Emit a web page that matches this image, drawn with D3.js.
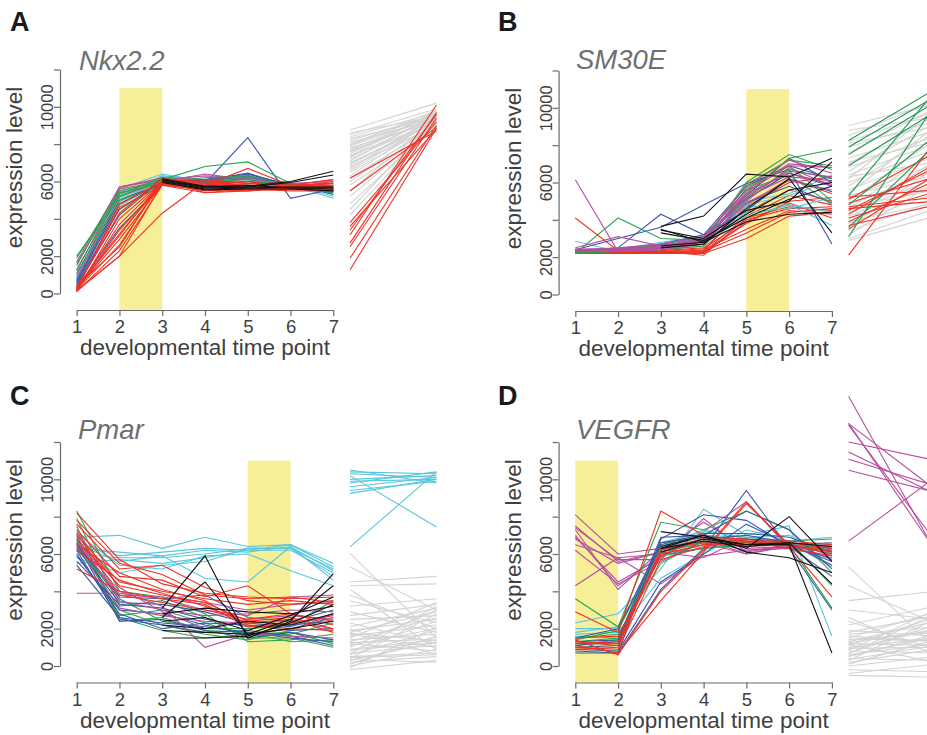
<!DOCTYPE html>
<html><head><meta charset="utf-8">
<script src="https://cdn.jsdelivr.net/npm/d3@7"></script>
<style>body{margin:0;background:#fff}svg{display:block}</style>
</head><body>
<svg id="chart" width="927" height="735"></svg>
<script>
// ---------------- shared ----------------
const timePoints = [1, 2, 3, 4, 5, 6, 7];
const yTicks = [0, 2000, 4000, 6000, 8000, 10000, 12000];
const yTickLabels = {0: "0", 2000: "2000", 6000: "6000", 10000: "10000"};
const xTitle = "developmental time point";
const yTitle = "expression level";

// ---------------- A: Nkx2.2 ----------------
const nkxRed = [
  [150, 2000, 5900, 5700, 5600, 5700, 5600],
  [100, 2300, 5800, 5600, 5500, 5600, 5500],
  [200, 2600, 6000, 5800, 5700, 5600, 5800],
  [250, 2900, 5850, 5500, 5600, 5700, 5500],
  [300, 3100, 6100, 5900, 5800, 5700, 5900],
  [150, 3400, 5900, 5700, 5700, 5600, 5600],
  [200, 3700, 5950, 5800, 6700, 5800, 5700],
  [100, 4000, 6000, 6000, 5800, 5700, 6000],
  [350, 4300, 6200, 5700, 5600, 5600, 5700],
  [250, 4600, 5800, 5400, 5500, 5700, 5600],
  [150, 2000, 4300, 6000, 5900, 5800, 5900],
  [400, 2500, 6100, 5400, 5600, 5500, 5500],
  [300, 3200, 5900, 5800, 6000, 5700, 5800],
  [200, 4800, 6000, 6100, 5900, 5800, 6100]
];
const nkxGreen = [
  [2000, 5200, 6100, 6800, 7050, 5900, 5600],
  [1900, 5500, 6000, 6200, 6300, 5800, 5700],
  [1600, 5400, 5900, 6000, 6100, 5700, 5500],
  [1300, 5300, 6200, 5900, 6000, 5800, 5600],
  [1100, 5000, 5800, 5700, 5800, 5700, 5400]
];
const nkxCyan = [
  [800, 5600, 6400, 6000, 6200, 5800, 5100],
  [600, 5300, 6300, 5900, 6300, 5900, 5300],
  [500, 5100, 6200, 6000, 6400, 5800, 5500],
  [700, 4900, 6100, 5800, 6200, 5700, 5400],
  [400, 5000, 6150, 5900, 6350, 5800, 5600],
  [900, 5450, 6050, 5850, 6150, 5750, 5500],
  [300, 4700, 6000, 5900, 6250, 5850, 5700],
  [1000, 5200, 6300, 6100, 6300, 5900, 5200]
];
const nkxBlue = [
  [300, 3500, 5800, 5900, 8350, 5100, 5600],
  [500, 4500, 6000, 6100, 6400, 5800, 5500],
  [700, 5000, 5900, 6000, 6300, 5700, 5400],
  [400, 4200, 6100, 5900, 6200, 5900, 5300],
  [600, 4800, 5950, 6050, 6450, 5750, 5600]
];
const nkxMagenta = [
  [1500, 5700, 6100, 6300, 6200, 5800, 5900],
  [1200, 5600, 6000, 6400, 6100, 5800, 6100],
  [1000, 5400, 5900, 5900, 5800, 5900, 5700],
  [800, 5200, 6000, 5800, 6000, 5700, 5800],
  [1700, 5700, 6200, 6100, 6000, 5900, 6000]
];
const nkxBlack = [
  [null, null, 6150, 5750, 5750, 6000, 6550],
  [null, null, 6050, 5650, 5700, 5950, 6350],
  [null, null, 6000, 5600, 5650, 5700, 5700],
  [null, null, 5950, 5550, 5600, 5600, 5500],
  [null, null, 6100, 5700, 5800, 5650, 5600]
];
const nkxMiniGray = [
  [8760, 10200], [8600, 9500], [8400, 9700], [8300, 9400], [8200, 9600], [8100, 9300],
  [8000, 9800], [7900, 9500], [7800, 9200], [7700, 9600], [7600, 9400], [7500, 9700],
  [7400, 9100], [7300, 9500], [7200, 9300], [7100, 9600], [7000, 9200], [6900, 9400],
  [6800, 9000], [6700, 9500], [6600, 9300], [6500, 9100], [6300, 9400], [6200, 9000],
  [6000, 9200], [5800, 8900], [5500, 9300], [5200, 9100], [4800, 9000], [4500, 9400],
  [4200, 9200], [8500, 9900], [7950, 9650], [7650, 9350], [7350, 9800], [6950, 9150]
];
const nkxMiniRed = [
  [6175, 8700], [5494, 8900], [3795, 9200], [3404, 9600], [3136, 10100],
  [2508, 9400], [1887, 9000], [1260, 8850], [2700, 9700], [3600, 8800]
];

// ---------------- B: SM30E ----------------
const smRed = [
  [2200, 2300, 2300, 2100, 4100, 4700, 4500],
  [2300, 2250, 2200, 2200, 3000, 4200, 4400],
  [2250, 2300, 2250, 2300, 3800, 5000, 5200],
  [4100, 2350, 2300, 2250, 4200, 5300, 4800],
  [2200, 2200, 2200, 2400, 3500, 4500, 4300],
  [2300, 2300, 2350, 2500, 4400, 5600, 5000],
  [2200, 2250, 2300, 2350, 4700, 6000, 6300],
  [2350, 2300, 2250, 2200, 3900, 4900, 4100],
  [2250, 2300, 2400, 2600, 4800, 6200, 5400],
  [2300, 2250, 2300, 2450, 4000, 4600, 4700],
  [2200, 2300, 2200, 2300, 3300, 4400, 4600]
];
const smGreen = [
  [2200, 4100, 3000, 2900, 5400, 7300, 7750],
  [2300, 2400, 2600, 2800, 6000, 7500, 6700],
  [2250, 2350, 2500, 2700, 5700, 6900, 5000],
  [2200, 2300, 2400, 2600, 5200, 6700, 6200],
  [2300, 2300, 2500, 2900, 5900, 7200, 6900],
  [2250, 2400, 2700, 3100, 5600, 6400, 4800]
];
const smBlue = [
  [2300, 2500, 4300, 3200, 4500, 6200, 5500],
  [2400, 3000, 3600, 4800, 5950, 6700, 2700],
  [2300, 2350, 2500, 2900, 5300, 7300, 6000],
  [2350, 2300, 2600, 3000, 5100, 6500, 5800],
  [2400, 2450, 2700, 3200, 5800, 6900, 6200],
  [2300, 2350, 2650, 2850, 4900, 5800, 4900]
];
const smCyan = [
  [2850, 2300, 2550, 2900, 4700, 4800, 3700],
  [2400, 2400, 2800, 3100, 5000, 5400, 6400],
  [2300, 2350, 2600, 2800, 4400, 4600, 5200],
  [2350, 2400, 2700, 3000, 4800, 5300, 6100],
  [2300, 2300, 2500, 2700, 4200, 4800, 4400]
];
const smMagenta = [
  [6150, 2300, 2400, 2700, 5000, 6800, 5800],
  [2500, 3100, 2600, 2900, 5500, 6900, 6800],
  [2400, 2500, 2700, 3100, 5600, 7000, 6800],
  [2350, 2450, 2600, 3000, 5800, 7200, 6500],
  [2300, 2400, 2500, 2850, 5300, 6600, 6300],
  [2450, 2400, 2550, 2950, 5200, 6300, 6100],
  [2300, 2350, 2450, 2800, 4900, 6100, 5600],
  [2400, 2300, 2500, 2900, 5400, 6500, 5900]
];
const smBlack = [
  [null, null, 3650, 4200, 6450, 6300, 7300],
  [null, null, 3450, 3000, 4500, 5000, 7100],
  [null, null, 2500, 2700, 4600, 6200, 3300],
  [null, null, 3300, 2900, 4100, 5100, 5800],
  [null, null, 2600, 2800, 3900, 4300, 4400],
  [null, null, 3500, 2800, 4300, 5600, 6000]
];
const smMiniGray = [
  [9050, 10200], [8800, 9500], [8500, 10400], [8200, 9800], [7900, 9300], [7600, 10000],
  [7300, 8800], [7000, 9600], [6800, 8500], [6600, 9200], [6400, 8100], [6200, 9900],
  [6000, 7800], [5800, 8700], [5600, 7400], [5400, 9000], [5200, 7000], [5000, 8300],
  [4800, 6600], [4600, 7700], [4400, 6200], [4200, 5800], [4000, 7200], [3800, 5400],
  [3600, 6800], [3400, 5000], [3200, 6000], [3000, 4600], [2900, 4200], [4700, 5600],
  [5300, 6400], [3900, 4900], [6300, 7100], [7100, 8200], [8100, 9000]
];
const smMiniGreen = [
  [8250, 11000], [7900, 10600], [7500, 10300], [6900, 9800], [5300, 10900],
  [4800, 8500], [3090, 10200], [3600, 8000]
];
const smMiniRed = [
  [5220, 5600], [5100, 7600], [4900, 6300], [4700, 5200], [4500, 6800], [4300, 7000],
  [4100, 5500], [3900, 6100], [3700, 4800], [3500, 6400], [2110, 8200], [4600, 5000]
];

// ---------------- C: Pmar ----------------
const pmarCyan = [
  [6900, 7000, 6300, 6900, 6400, 6500, 5300],
  [6300, 6100, 5900, 6200, 6100, 6400, 5100],
  [6000, 5800, 5800, 6000, 6300, 6300, 4800],
  [5500, 5700, 5500, 5800, 6200, 6200, 5000],
  [6500, 5600, 5900, 4700, 4500, 6400, 4600],
  [7100, 5400, 5200, 5900, 6000, 5100, 4300],
  [6600, 5900, 6100, 6300, 6200, 6500, 5500],
  [5800, 5000, 5400, 5600, 6300, 6300, 5200]
];
const pmarRed = [
  [8200, 5700, 4400, 3900, 3700, 3600, 3700],
  [7800, 5500, 4900, 3800, 3600, 3700, 3400],
  [7600, 5200, 5400, 4200, 3500, 3300, 3500],
  [7300, 4800, 4600, 3700, 4300, 2800, 2400],
  [7000, 4500, 4000, 3600, 3300, 3500, 3300],
  [6800, 4300, 3800, 3400, 2400, 2600, 2000],
  [6500, 5000, 4100, 3500, 2200, 2000, 1900],
  [5200, 4000, 3600, 3300, 2100, 2300, 2700],
  [7100, 3800, 3400, 3000, 2500, 2800, 2200],
  [6200, 4600, 3900, 3200, 2300, 2500, 1800]
];
const pmarGreen = [
  [8300, 4000, 3700, 2800, 1300, 1400, 1700],
  [7900, 3200, 3500, 2600, 1500, 1500, 1000],
  [7500, 2400, 2600, 1900, 1800, 1300, 1400],
  [7000, 2700, 3000, 2300, 1600, 1700, 2300],
  [6700, 3000, 2200, 1700, 1400, 1900, 2800],
  [6400, 3600, 2400, 2000, 2000, 2200, 3500],
  [6800, 2600, 1900, 1500, 1700, 1800, 1200]
];
const pmarBlue = [
  [6600, 2400, 2500, 1900, 1500, 1800, 1400],
  [6200, 2500, 2200, 1800, 1900, 1600, 1100],
  [5900, 3000, 2800, 2200, 1700, 2000, 2600],
  [5600, 3300, 3100, 2500, 2100, 2200, 2400],
  [6000, 2800, 2000, 2300, 2200, 1900, 2000],
  [6300, 3400, 3300, 2900, 2300, 2100, 2800],
  [5400, 2600, 2300, 2100, 1800, 1500, 1300],
  [6500, 3700, 3600, 3800, 2600, 2400, 3000]
];
const pmarMagenta = [
  [3900, 3900, 3600, 3000, 2700, 3700, 3800],
  [6800, 4000, 3200, 1000, 1700, 1600, 1500],
  [6600, 3800, 3700, 3400, 3000, 3300, 3400],
  [7200, 4200, 2900, 2000, 2500, 2700, 2500],
  [6400, 3100, 2700, 2400, 2300, 2400, 2000],
  [6900, 3500, 3000, 2700, 2800, 3000, 2900]
];
const pmarBlack = [
  [null, null, 3100, 5900, 1500, 2400, 4950],
  [null, null, 2600, 4500, 1700, 2500, 4300],
  [null, null, 1500, 1500, 1600, 2300, 3300],
  [null, null, 2400, 2600, 1900, 2700, 3700],
  [null, null, 2200, 2000, 2400, 2200, 2800],
  [null, null, 2800, 3100, 2900, 2800, 3200],
  [null, null, 1900, 1800, 1700, 2000, 2400]
];
const pmarMiniCyan = [
  [10500, 9800], [10400, 10300], [10300, 10100], [10200, 7450], [10000, 10200],
  [9900, 10000], [9800, 10400], [9600, 10100], [9400, 9900], [9250, 10000], [6380, 10400]
];
const pmarMiniGray = [
  [6030, 1500], [5300, 3000], [4500, 4800], [4300, 4400], [4100, 900], [3500, 2300],
  [3200, 3600], [2900, 1800], [2700, 3300], [2500, 2700], [2300, 1200], [2100, 3100],
  [1900, 2500], [1800, 2900], [1700, 1000], [1600, 2200], [1500, 3400], [1400, 1700],
  [1300, 2600], [1200, 800], [1100, 2000], [1000, 3000], [900, 1400], [800, 2400],
  [700, 1100], [600, 1900], [500, 700], [400, 2800], [300, 1300], [200, 500],
  [100, 1600], [0, 900], [-200, 300], [-100, 2100], [1250, 1450], [850, 1250],
  [450, 600], [1750, 1350], [2000, 600], [3800, 2000], [650, 3200], [350, 200]
];

// ---------------- D: VEGFR ----------------
const vegfrMagenta = [
  [8100, 6000, 6300, 6800, 6000, 6400, 6500],
  [7400, 5700, 5700, 7900, 6100, 6500, 6300],
  [7300, 4100, 6200, 7700, 6300, 6400, 6200],
  [7000, 4300, 5900, 6500, 6400, 6600, 6500],
  [6800, 5500, 6100, 5800, 6900, 6700, 5900],
  [6500, 5800, 6000, 6300, 6700, 6500, 6200],
  [6200, 4400, 5600, 6700, 6200, 6300, 5800],
  [4300, 5800, 4400, 5900, 6200, 6400, 6600],
  [6900, 4500, 5800, 7200, 8800, 6300, 6400],
  [7500, 5600, 6100, 6600, 6000, 6500, 6600]
];
const vegfrRed = [
  [2900, 1800, 8300, 7000, 6400, 6500, 6000],
  [1400, 600, 4000, 6200, 8800, 6400, 3700],
  [1100, 700, 3500, 6100, 8700, 6500, 6100],
  [1200, 1300, 6000, 6500, 6600, 6600, 6300],
  [900, 1000, 6200, 6800, 6700, 6700, 6500],
  [1500, 1600, 5900, 6900, 6800, 6400, 6200],
  [1300, 1100, 6300, 6600, 6500, 6600, 6400],
  [1000, 900, 5700, 6400, 6700, 6300, 5900]
];
const vegfrGreen = [
  [3600, 2100, 7700, 7300, 8300, 7300, 5000],
  [1300, 1500, 6600, 7000, 6700, 6500, 3100],
  [1500, 1700, 5500, 6700, 6600, 6500, 6300],
  [1200, 1200, 6100, 6600, 6800, 6700, 6800],
  [1100, 1400, 5900, 6300, 6500, 6700, 4300],
  [1400, 1900, 6400, 6900, 6600, 6500, 6000]
];
const vegfrBlue = [
  [700, 700, 4100, 6300, 9400, 6300, 3000],
  [800, 700, 6800, 8100, 7800, 6400, 4800],
  [1300, 1400, 6900, 7000, 8300, 7300, 5200],
  [900, 800, 4500, 6000, 7600, 6500, 5600],
  [1100, 1300, 6500, 7100, 7100, 6900, 6100],
  [1000, 1100, 6200, 6800, 7000, 6600, 5400],
  [1500, 2000, 6600, 6900, 6800, 6600, 5700]
];
const vegfrCyan = [
  [2300, 2800, 5200, 8400, 7000, 7500, 1600],
  [2000, 2000, 6400, 7300, 6800, 6500, 6500],
  [1700, 1800, 4700, 6000, 7300, 6700, 6900],
  [1600, 1500, 6300, 7000, 6900, 7000, 6000],
  [1800, 2100, 6100, 6700, 6600, 6400, 6600],
  [1300, 1200, 6600, 7200, 6900, 6600, 5300]
];
const vegfrBlack = [
  [null, null, 6300, 7000, 6300, 8000, 5600],
  [null, null, 7200, 6900, 6500, 6500, 700],
  [null, null, 6400, 7000, 6100, 5800, 5000],
  [null, null, 6100, 6800, 6500, 6600, 4400],
  [null, null, 6300, 6700, 6400, 6600, 6400]
];
const vegfrMiniMagenta = [
  [14450, 6150], [12985, 9460], [12900, 6700], [12000, 11020], [11465, 9220],
  [11075, 9650], [10490, 9310], [6690, 10100], [13000, 6200]
];
const vegfrMiniGray = [
  [5300, 1000], [4300, 2300], [3500, 4000], [3000, 2500], [2400, 900], [2200, 3200],
  [1900, 1600], [1800, 2700], [1700, 2100], [1600, 1300], [1500, 2900], [1400, 1800],
  [1300, 2400], [1200, 1100], [1100, 2600], [1000, 1500], [900, 2000], [800, 700],
  [700, 2200], [600, 1200], [500, 1700], [400, 300], [300, 2500], [200, 900],
  [100, 1400], [0, 500], [-200, -300], [-400, 100], [-500, -600], [1250, 1900],
  [950, 1000], [650, 2800], [350, 1100], [1150, 200], [2600, 600], [850, 3000],
  [1450, 1350], [550, 1550]
];

// ---------------- styling ----------------
const colors = {
  red: "#ee3124", green: "#2ea44c", blue: "#3c56a6", cyan: "#5ac5dc",
  magenta: "#b4509e", black: "#111111", gray: "#d3d3d3", miniGreen: "#1f9650"
};
const highlightColor = "#f6ef98";
const fontFam = "'Liberation Sans', Arial, Helvetica, sans-serif";

const panels = [
  { letter: "A", gene: "Nkx2.2", highlight: [2, 3], dx: 0, dy: 0, letterX: 10, letterY: 31, titleX: 79, titleY: 69.5,
    series: [["cyan", nkxCyan], ["blue", nkxBlue], ["magenta", nkxMagenta], ["green", nkxGreen], ["red", nkxRed], ["black", nkxBlack]],
    mini: [["gray", nkxMiniGray], ["red", nkxMiniRed]] },
  { letter: "B", gene: "SM30E", highlight: [5, 6], dx: 498.6, dy: 1, letterX: 498, letterY: 31, titleX: 576, titleY: 68.5,
    series: [["red", smRed], ["cyan", smCyan], ["blue", smBlue], ["green", smGreen], ["magenta", smMagenta], ["black", smBlack]],
    mini: [["gray", smMiniGray], ["red", smMiniRed], ["miniGreen", smMiniGreen]] },
  { letter: "C", gene: "Pmar", highlight: [5, 6], dx: 0, dy: 372.5, letterX: 10, letterY: 405, titleX: 78, titleY: 438.5,
    series: [["cyan", pmarCyan], ["green", pmarGreen], ["blue", pmarBlue], ["magenta", pmarMagenta], ["red", pmarRed], ["black", pmarBlack]],
    mini: [["gray", pmarMiniGray], ["cyan", pmarMiniCyan]] },
  { letter: "D", gene: "VEGFR", highlight: [1, 2], dx: 498.6, dy: 372.5, letterX: 498, letterY: 405, titleX: 576, titleY: 439,
    series: [["magenta", vegfrMagenta], ["cyan", vegfrCyan], ["green", vegfrGreen], ["blue", vegfrBlue], ["red", vegfrRed], ["black", vegfrBlack]],
    mini: [["gray", vegfrMiniGray], ["magenta", vegfrMiniMagenta]] }
];

// base geometry of a panel (panel A), others are translated
const G = { yAxisX: 60, x0: 76.7, x1: 333.3, yZero: 293.5, yTop: 69.5, axisY: 310, miniL: 350, miniR: 436.5 };

const svg = d3.select("#chart");
svg.append("rect").attr("width", 927).attr("height", 735).attr("fill", "#fff");

panels.forEach(p => {
  svg.append("text").attr("x", p.letterX).attr("y", p.letterY).text(p.letter)
    .attr("font-family", fontFam).attr("font-weight", "bold").attr("font-size", 27).attr("fill", "#1a1a1a");
  svg.append("text").attr("x", p.titleX).attr("y", p.titleY).text(p.gene)
    .attr("font-family", fontFam).attr("font-style", "italic").attr("font-size", 27.5).attr("fill", "#6f6f6f");

  const g = svg.append("g").attr("transform", `translate(${p.dx},${p.dy})`);
  const x = d3.scaleLinear().domain([1, 7]).range([G.x0, G.x1]);
  const y = d3.scaleLinear().domain([0, 12000]).range([G.yZero, G.yTop]);

  g.append("rect")
    .attr("x", x(p.highlight[0])).attr("width", x(p.highlight[1]) - x(p.highlight[0]))
    .attr("y", y(11000)).attr("height", G.axisY - y(11000))
    .attr("fill", highlightColor);

  const line = d3.line().defined(d => d != null)
    .x((d, i) => x(timePoints[i])).y(d => y(d));
  p.series.forEach(([c, rows]) => {
    g.append("g").selectAll("path").data(rows).join("path")
      .attr("d", line).attr("fill", "none").attr("stroke", colors[c]).attr("stroke-width", 1.1);
  });

  const mx = d3.scaleLinear().domain([0, 1]).range([G.miniL, G.miniR]);
  const mline = d3.line().x((d, i) => mx(i)).y(d => y(d));
  p.mini.forEach(([c, rows]) => {
    g.append("g").selectAll("path").data(rows).join("path")
      .attr("d", mline).attr("fill", "none").attr("stroke", colors[c]).attr("stroke-width", 1.1);
  });

  const ya = g.append("g").attr("transform", `translate(${G.yAxisX},0)`)
    .call(d3.axisLeft(y).tickValues(yTicks).tickSize(6).tickSizeOuter(0)
      .tickFormat(d => yTickLabels[d] ?? ""));
  ya.selectAll("path, line").attr("stroke", "#6b6b6b").attr("stroke-width", 1.2);
  ya.selectAll("text").attr("transform", "rotate(-90)").attr("x", 0).attr("y", -7).attr("dy", 0)
    .attr("text-anchor", "middle").attr("font-family", fontFam).attr("font-size", 16.5).attr("fill", "#404040");

  const xa = g.append("g").attr("transform", `translate(0,${G.axisY})`)
    .call(d3.axisBottom(x).tickValues(timePoints).tickSize(6).tickSizeOuter(0).tickFormat(d3.format("d")));
  xa.selectAll("path, line").attr("stroke", "#6b6b6b").attr("stroke-width", 1.2);
  xa.selectAll("text").attr("y", 23).attr("dy", 0)
    .attr("font-family", fontFam).attr("font-size", 18.5).attr("fill", "#404040");

  g.append("text").attr("x", (G.x0 + G.x1) / 2).attr("y", G.axisY + 45).attr("text-anchor", "middle")
    .attr("font-family", fontFam).attr("font-size", 22.5).attr("fill", "#404040").text(xTitle);
  g.append("text").attr("transform", `translate(22,167.5) rotate(-90)`).attr("text-anchor", "middle")
    .attr("font-family", fontFam).attr("font-size", 22.5).attr("fill", "#404040").text(yTitle);
});
</script>
</body></html>
